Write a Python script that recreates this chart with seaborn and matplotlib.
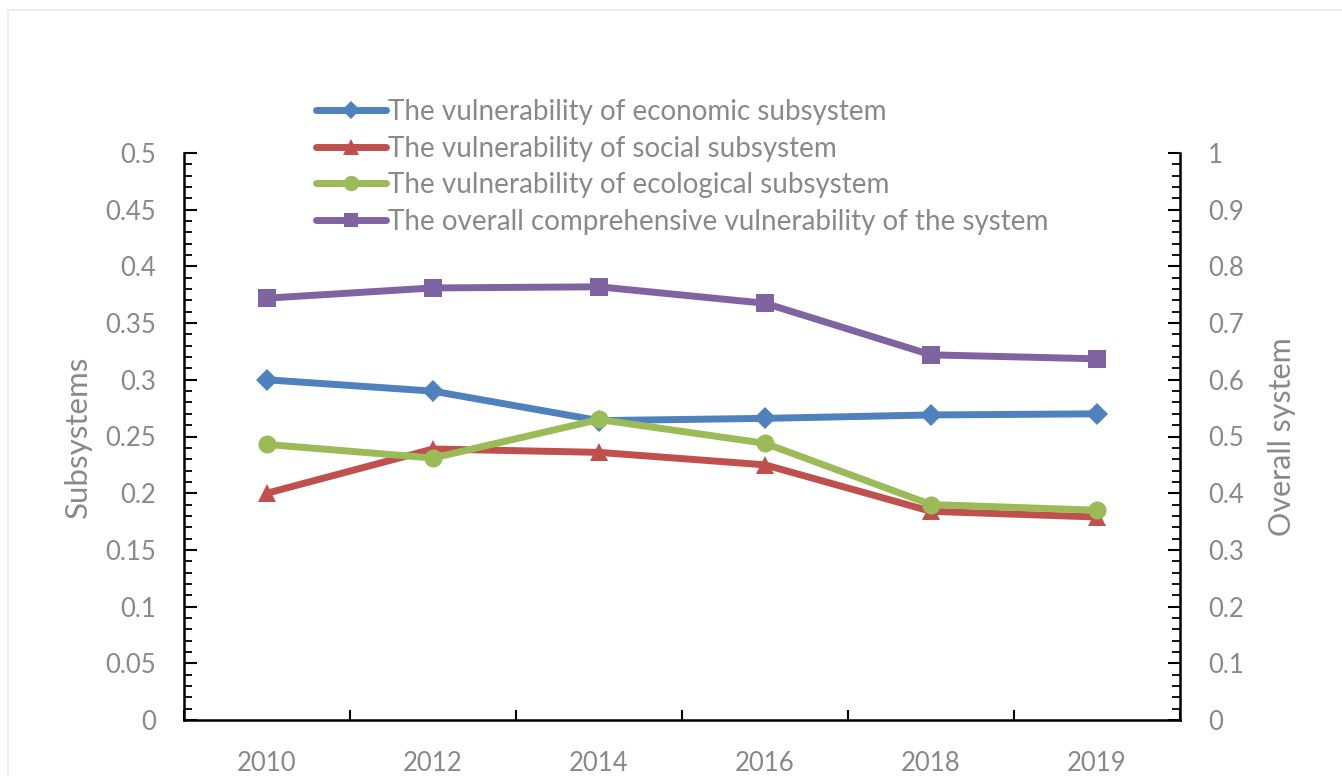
import numpy as np
import pandas as pd
import matplotlib as mpl
import matplotlib.pyplot as plt
import seaborn as sns
from matplotlib.ticker import MultipleLocator, FixedLocator, FuncFormatter
from matplotlib.lines import Line2D
from matplotlib.patches import Rectangle

years = ['2010', '2012', '2014', '2016', '2018', '2019']
economic = [0.300, 0.290, 0.264, 0.266, 0.269, 0.270]
social = [0.200, 0.239, 0.236, 0.225, 0.184, 0.179]
ecological = [0.243, 0.231, 0.265, 0.244, 0.190, 0.185]
overall = [0.744, 0.762, 0.764, 0.735, 0.644, 0.637]

labels = ['The vulnerability of economic subsystem',
          'The vulnerability of social subsystem',
          'The vulnerability of ecological subsystem',
          'The overall comprehensive vulnerability of the system']
colors = ['#4F81BD', '#C0504D', '#9BBB59', '#8064A2']
markers = ['D', '^', 'o', 's']
msizes = [11, 13, 13, 12.5]

sns.set_theme(style='white')
mpl.rcParams['font.family'] = ['Lato', 'DejaVu Sans']
grey = '#898989'

fig = plt.figure(figsize=(13.42, 7.76), dpi=100)
ax = fig.add_axes([184 / 1342, 1 - 720 / 776, 996 / 1342, 567 / 776])
ax2 = ax.twinx()

sub = pd.DataFrame({'year': years, 'economic': economic,
                    'social': social, 'ecological': ecological})
for col, c, m, ms in zip(['economic', 'social', 'ecological'], colors, markers, msizes):
    sns.lineplot(data=sub, x='year', y=col, ax=ax, color=c, marker=m,
                 markersize=ms, markeredgewidth=0, linewidth=5, sort=False)
sns.lineplot(x=years, y=overall, ax=ax2, color=colors[3], marker=markers[3],
             markersize=msizes[3], markeredgewidth=0, linewidth=5, sort=False)

for a in (ax, ax2):
    a.set_xlim(-0.5, 5.5)
    for s in a.spines.values():
        s.set_visible(False)
    a.grid(False)
ax.spines['left'].set_visible(True)
ax.spines['bottom'].set_visible(True)
ax2.spines['right'].set_visible(True)
for s in ('left', 'bottom'):
    ax.spines[s].set_color('black')
    ax.spines[s].set_linewidth(1.8)
ax2.spines['right'].set_color('black')
ax2.spines['right'].set_linewidth(1.8)

ax.set_ylim(0, 0.5)
ax2.set_ylim(0, 1)
ax.yaxis.set_major_locator(MultipleLocator(0.05))
ax.yaxis.set_minor_locator(MultipleLocator(0.01))
ax2.yaxis.set_major_locator(MultipleLocator(0.1))
ax2.yaxis.set_minor_locator(MultipleLocator(0.02))
fmt = FuncFormatter(lambda v, p: f'{round(v, 2):g}')
ax.yaxis.set_major_formatter(fmt)
ax2.yaxis.set_major_formatter(fmt)

ax.xaxis.set_minor_locator(FixedLocator(np.arange(-0.5, 5.6, 1)))
ax.tick_params(axis='x', which='major', length=0, pad=22, labelsize=18.5, labelcolor=grey)
ax.tick_params(axis='x', which='minor', direction='in', length=7, width=1.5, color='black', bottom=True)
ax.tick_params(axis='y', which='major', direction='in', length=9, width=1.5, color='black',
               left=True, labelsize=18.5, labelcolor=grey, pad=20)
ax.tick_params(axis='y', which='minor', direction='in', length=6, width=1.3, color='black', left=True)
ax2.tick_params(axis='y', which='major', direction='in', length=9, width=1.5, color='black',
                right=True, labelsize=18.5, labelcolor=grey, pad=20)
ax2.tick_params(axis='y', which='minor', direction='in', length=6, width=1.3, color='black', right=True)

ax.set_xlabel('')
ax.set_ylabel('Subsystems', fontsize=22.5, color=grey)
ax2.set_ylabel('Overall system', fontsize=22, color=grey, rotation=90)
ax.yaxis.set_label_coords((78 - 184) / 996, 0.5)
ax2.yaxis.set_label_coords((1282 - 184) / 996, 0.5)
ax.yaxis.label.set_verticalalignment('center')
ax2.yaxis.label.set_verticalalignment('center')

handles = [Line2D([], [], color=c, marker=m, markersize=ms * 0.85, markeredgewidth=0, linewidth=5)
           for c, m, ms in zip(colors, markers, msizes)]
fig.legend(handles, labels, loc='upper left', bbox_to_anchor=(305 / 1342, 1 - 88 / 776),
           frameon=False, fontsize=20, labelcolor=grey, handlelength=2.5,
           handletextpad=0.1, labelspacing=0.38, borderaxespad=0)

fig.patches.append(Rectangle((8 / 1342, -0.1), 1.2, 1 - 10 / 776 + 0.1, transform=fig.transFigure,
                             fill=False, edgecolor='#EDEDED', linewidth=1.5, zorder=-1))

fig.savefig('out.png', dpi=100, facecolor='white')
